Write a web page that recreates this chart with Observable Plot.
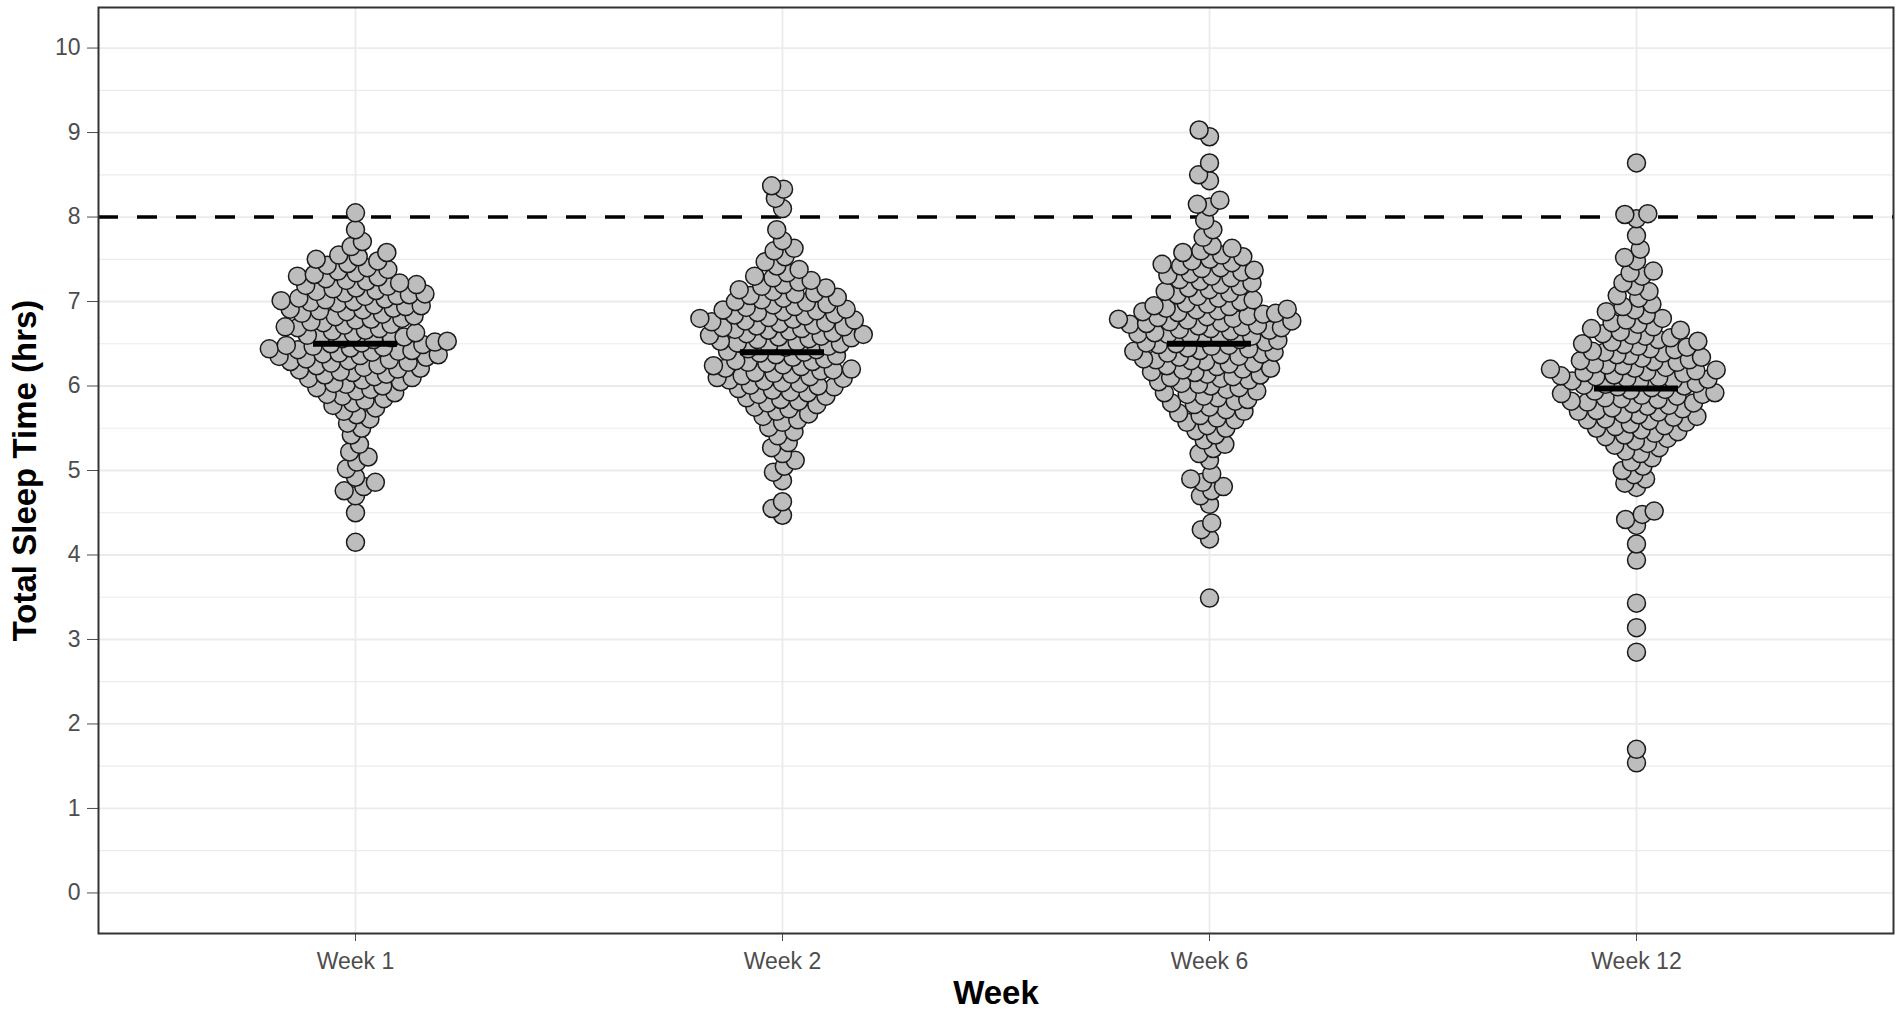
<!DOCTYPE html>
<html>
<head>
<meta charset="utf-8">
<script src="https://cdn.jsdelivr.net/npm/d3@7"></script>
<script src="https://cdn.jsdelivr.net/npm/@observablehq/plot@0.6"></script>
<style>
  html, body { margin: 0; padding: 0; background: #fff; overflow: hidden; }
  #chart svg { display: block; }
</style>
</head>
<body>
<div id="chart"></div>
<script>
// ---- data ----
const weeks = ["Week 1", "Week 2", "Week 6", "Week 12"];

const week1 = [4.15, 4.5, 4.7, 4.76, 4.81, 4.86, 4.92, 5.02, 5.1, 5.16, 5.22, 5.31, 5.42, 5.5, 5.56, 5.61, 5.66, 5.7, 5.74, 5.77,
  5.8, 5.83, 5.85, 5.88,
  5.9, 5.92, 5.94, 5.96, 5.98,
  6.0, 6.02, 6.03, 6.05, 6.07, 6.09,
  6.1, 6.11, 6.13, 6.14, 6.16, 6.17, 6.19,
  6.2, 6.21, 6.22, 6.24, 6.25, 6.27, 6.28, 6.29,
  6.3, 6.31, 6.32, 6.34, 6.35, 6.36, 6.37, 6.38, 6.39,
  6.4, 6.41, 6.42, 6.43, 6.44, 6.45, 6.46, 6.47, 6.48, 6.49,
  6.5, 6.51, 6.52, 6.53, 6.55, 6.56, 6.57, 6.58, 6.59,
  6.6, 6.62, 6.63, 6.65, 6.66, 6.68, 6.69,
  6.7, 6.72, 6.73, 6.75, 6.76, 6.78, 6.79,
  6.8, 6.82, 6.83, 6.85, 6.86, 6.88, 6.89,
  6.9, 6.91, 6.92, 6.94, 6.95, 6.96, 6.98, 6.99,
  7.0, 7.01, 7.02, 7.03, 7.04, 7.06, 7.07, 7.08, 7.09,
  7.1, 7.12, 7.13, 7.15, 7.16, 7.18, 7.19,
  7.2, 7.22, 7.24, 7.25, 7.27, 7.29,
  7.3, 7.32, 7.34, 7.36, 7.38,
  7.4, 7.43, 7.45, 7.48,
  7.5, 7.53, 7.55, 7.58,
  7.65, 7.71, 7.85, 8.05];

const week2 = [4.47, 4.55, 4.63, 4.88, 4.98, 5.05, 5.12, 5.2, 5.27, 5.33, 5.41, 5.46, 5.51, 5.57,
  5.6, 5.64, 5.67,
  5.7, 5.73, 5.75, 5.78,
  5.8, 5.82, 5.84, 5.86, 5.88,
  5.9, 5.92, 5.93, 5.95, 5.97, 5.99,
  6.0, 6.01, 6.03, 6.04, 6.06, 6.07, 6.09,
  6.1, 6.11, 6.12, 6.14, 6.15, 6.16, 6.18, 6.19,
  6.2, 6.21, 6.23, 6.24, 6.25, 6.27, 6.28, 6.29,
  6.3, 6.32, 6.34, 6.36, 6.37, 6.39,
  6.4, 6.41, 6.43, 6.44, 6.46, 6.47, 6.49,
  6.5, 6.51, 6.52, 6.53, 6.55, 6.56, 6.57, 6.58, 6.59,
  6.6, 6.61, 6.62, 6.63, 6.65, 6.66, 6.67, 6.68, 6.69,
  6.7, 6.71, 6.72, 6.74, 6.75, 6.76, 6.77, 6.78, 6.79,
  6.8, 6.81, 6.83, 6.84, 6.85, 6.87, 6.88, 6.89,
  6.9, 6.91, 6.93, 6.94, 6.96, 6.97, 6.99,
  7.0, 7.02, 7.04, 7.05, 7.07, 7.09,
  7.1, 7.12, 7.14, 7.16, 7.18,
  7.2, 7.23, 7.25, 7.28,
  7.3, 7.34, 7.38,
  7.42, 7.47,
  7.53, 7.6, 7.63, 7.72, 7.85, 8.1, 8.22, 8.33, 8.37];

const week6 = [3.49, 4.19, 4.3, 4.38, 4.6, 4.7, 4.76, 4.81, 4.86, 4.9, 4.96, 5.12, 5.2, 5.26, 5.31, 5.36, 5.42, 5.47,
  5.5, 5.53, 5.57,
  5.6, 5.62, 5.65, 5.68,
  5.7, 5.72, 5.75, 5.78,
  5.8, 5.82, 5.84, 5.86, 5.88,
  5.9, 5.92, 5.94, 5.96, 5.98,
  6.0, 6.02, 6.03, 6.05, 6.07, 6.09,
  6.1, 6.11, 6.13, 6.14, 6.16, 6.17, 6.19,
  6.2, 6.21, 6.23, 6.24, 6.26, 6.27, 6.29,
  6.3, 6.31, 6.32, 6.34, 6.35, 6.37, 6.38, 6.39,
  6.4, 6.41, 6.42, 6.44, 6.45, 6.47, 6.48, 6.49,
  6.5, 6.51, 6.52, 6.54, 6.55, 6.57, 6.58, 6.59,
  6.6, 6.61, 6.62, 6.63, 6.65, 6.66, 6.67, 6.68, 6.69,
  6.7, 6.71, 6.72, 6.73, 6.74, 6.75, 6.76, 6.77, 6.78, 6.79,
  6.8, 6.81, 6.82, 6.83, 6.85, 6.86, 6.87, 6.88, 6.89,
  6.9, 6.91, 6.92, 6.94, 6.95, 6.97, 6.98,
  7.0, 7.02, 7.04, 7.06, 7.08,
  7.1, 7.12, 7.14, 7.16, 7.18,
  7.2, 7.22, 7.24, 7.26, 7.28,
  7.3, 7.31, 7.33, 7.35, 7.37, 7.39,
  7.4, 7.42, 7.44, 7.46, 7.48,
  7.5, 7.53, 7.55, 7.58,
  7.6, 7.63, 7.66,
  7.76, 7.85, 7.96, 8.12, 8.15, 8.2, 8.43, 8.5, 8.64, 8.95, 9.03];

const week12 = [1.54, 1.7, 2.85, 3.14, 3.43, 3.94, 4.13, 4.35, 4.42, 4.48, 4.52, 4.8, 4.85, 4.9, 4.95, 5.0, 5.05, 5.1, 5.15,
  5.2, 5.23, 5.27,
  5.3, 5.32, 5.35, 5.38,
  5.4, 5.42, 5.44, 5.46, 5.48,
  5.5, 5.52, 5.53, 5.55, 5.57, 5.59,
  5.6, 5.61, 5.63, 5.64, 5.66, 5.67, 5.69,
  5.7, 5.71, 5.73, 5.74, 5.76, 5.77, 5.79,
  5.8, 5.81, 5.82, 5.84, 5.85, 5.86, 5.88, 5.89,
  5.9, 5.91, 5.92, 5.94, 5.95, 5.96, 5.98, 5.99,
  6.0, 6.01, 6.02, 6.03, 6.05, 6.06, 6.07, 6.08, 6.09,
  6.1, 6.11, 6.12, 6.13, 6.15, 6.16, 6.17, 6.18, 6.19,
  6.2, 6.21, 6.22, 6.24, 6.25, 6.26, 6.28, 6.29,
  6.3, 6.31, 6.33, 6.34, 6.36, 6.37, 6.39,
  6.4, 6.41, 6.43, 6.44, 6.46, 6.47, 6.49,
  6.5, 6.52, 6.53, 6.55, 6.57, 6.59,
  6.6, 6.62, 6.64, 6.66, 6.68,
  6.7, 6.73, 6.75, 6.78,
  6.8, 6.84, 6.88,
  6.9, 6.94, 6.97,
  7.04, 7.07, 7.12, 7.18, 7.22, 7.3, 7.34, 7.36, 7.48, 7.52, 7.62, 7.78, 7.98, 8.03, 8.04, 8.64];

const medians = [6.5, 6.4, 6.5, 5.97];
const yTicks = [0, 1, 2, 3, 4, 5, 6, 7, 8, 9, 10];
const yMinor = [0.5, 1.5, 2.5, 3.5, 4.5, 5.5, 6.5, 7.5, 8.5, 9.5];
const reference = [8];
const xTitle = "Week";
const yTitle = "Total Sleep Time (hrs)";

// ---- tables built from the arrays ----
const series = [week1, week2, week6, week12];
const medianRows = weeks.map((w, i) => ({week: w, median: medians[i]}));

const base = {
  width: 1901,
  height: 1011,
  marginLeft: 98,
  marginRight: 8,
  marginTop: 7,
  marginBottom: 78,
  style: {fontFamily: "'Liberation Sans', Arial, sans-serif", fontSize: "23px", color: "#4d4d4d", background: "#fff"},
  x: {type: "point", domain: weeks, padding: 0.6, label: null, tickSize: 8, tickPadding: 11},
  y: {domain: [-0.48, 10.48], ticks: yTicks, tickFormat: d => String(d), label: null, tickSize: 11, tickPadding: 7}
};

// first pass: read Plot's own x scale to place each week's swarm
const probe = Plot.plot({...base, marks: [Plot.frame()]});
const xs = probe.scale("x");
const xpos = xs.apply
  ? (v) => xs.apply(v)
  : d3.scalePoint(xs.domain, xs.range).padding(xs.padding ?? 0.6).align(xs.align ?? 0.5);
const cx = (base.marginLeft + base.width - base.marginRight) / 2;

const dotMarks = weeks.map((w, i) =>
  Plot.dot(
    series[i].map(v => ({week: w, tst: v})),
    Plot.dodgeX({anchor: "middle", padding: -5.6}, {
      y: "tst", r: 9, fill: "#bdbdbd", stroke: "#1a1a1a", strokeWidth: 1.5,
      dx: xpos(w) - cx
    })
  )
);

const chart = Plot.plot({
  ...base,
  marks: [
    Plot.ruleY(yMinor, {stroke: "#ebebeb", strokeWidth: 1.2}),
    Plot.ruleY(yTicks, {stroke: "#ebebeb", strokeWidth: 1.8}),
    Plot.ruleX(weeks, {stroke: "#ebebeb", strokeWidth: 1.8}),
    Plot.ruleY(reference, {stroke: "#000", strokeWidth: 3.6, strokeDasharray: "20,19"}),
    ...dotMarks,
    Plot.ruleY(medianRows, {y: "median", x1: "week", x2: "week", insetLeft: -42, insetRight: -42, stroke: "#000", strokeWidth: 6}),
    Plot.frame({stroke: "#333", strokeWidth: 2}),
    Plot.text([yTitle], {text: d => d, frameAnchor: "left", dx: -73, rotate: -90, textAnchor: "middle", lineAnchor: "middle",
      fontSize: 33, fontWeight: "bold", fill: "#000"}),
    Plot.text([xTitle], {text: d => d, frameAnchor: "bottom", dy: 60, textAnchor: "middle", lineAnchor: "middle",
      fontSize: 33, fontWeight: "bold", fill: "#000"})
  ]
});

document.getElementById("chart").appendChild(chart);
</script>
</body>
</html>
